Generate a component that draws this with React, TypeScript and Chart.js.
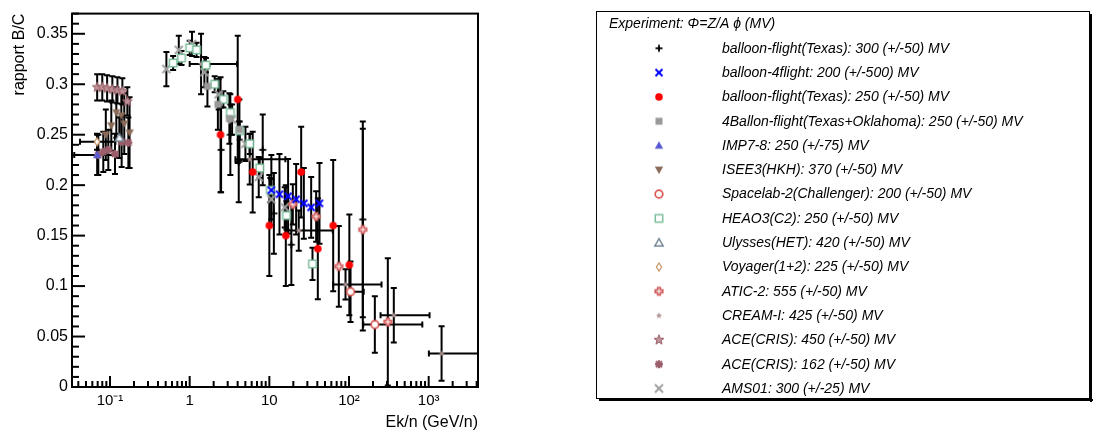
import React, { useEffect, useRef } from 'react';
import { Chart, registerables } from 'chart.js';

Chart.register(...registerables);

// ---------------- data (Ek/n in GeV/n, B/C ratio) ----------------
const texas300E = [2.48, 3.24, 4.13, 8.26, 11.4, 18.9, 149];
const texas300BC = [0.235, 0.25, 0.223, 0.235, 0.172, 0.141, 0.166];
const texas300Err = [0.042, 0.04, 0.04, 0.035, 0.04, 0.04, 0.097];

const flight4E = [10.6, 13.4, 17.2, 21.7, 27.1, 33.5, 42.6];
const flight4BC = [0.195, 0.191, 0.189, 0.186, 0.182, 0.178, 0.182];
const flight4Err = [0.035, 0.04, 0.037, 0.035, 0.035, 0.03, 0.04];

const texas250E = [2.44, 4.01, 6.18, 10.0, 16.1, 25.1, 40.6, 63.3, 101];
const texas250BC = [0.25, 0.285, 0.213, 0.16, 0.15, 0.213, 0.137, 0.16, 0.121];
const texas250Err = [0.057, 0.063, 0.04, 0.05, 0.05, 0.045, 0.05, 0.065, 0.05];

const ballon4E = [1.67, 2.26, 3.15, 4.21];
const ballon4BC = [0.298, 0.28, 0.266, 0.255];
const ballon4Err = [0.02, 0.025, 0.025, 0.03];

const impE = [0.069];
const impBC = [0.23];
const impErr = [0.02];
const impXLo = [0.0356];
const impXHi = [0.12];

const iseeE = [0.0886, 0.1038, 0.12, 0.1387, 0.151, 0.176];
const iseeBC = [0.25, 0.259, 0.272, 0.269, 0.261, 0.252];
const iseeErr = [0.025, 0.025, 0.025, 0.025, 0.03, 0.035];

const spacelabE = [104.5, 211];
const spacelabBC = [0.0944, 0.0619];
const spacelabErr = [0.03, 0.028];
const spacelabXLo = [104.5, 151];
const spacelabXHi = [153, 832];

const heaoE = [0.62, 0.79, 1.0, 1.22, 1.6, 2.06, 2.65, 3.24, 4.25, 5.67, 7.57, 10.3, 16.4, 34.8];
const heaoBC = [0.321, 0.326, 0.336, 0.334, 0.319, 0.3, 0.285, 0.272, 0.254, 0.241, 0.217, 0.195, 0.17, 0.122];
const heaoErr = [0.007, 0.007, 0.007, 0.007, 0.007, 0.008, 0.008, 0.008, 0.009, 0.01, 0.01, 0.012, 0.014, 0.016];

const ulyssesE = [0.131];
const ulyssesBC = [0.247];
const ulyssesErr = [0.02];

const voyagerE = [0.0687];
const voyagerBC = [0.243];
const voyagerErr = [0.008];
const voyagerXLo = [0.042];
const voyagerXHi = [0.117];

const aticE = [19.7, 38.7, 74.5, 149, 307];
const aticBC = [0.181, 0.169, 0.1195, 0.156, 0.0645];
const aticErr = [0.02, 0.025, 0.04, 0.1, 0.063];

const creamE = [1.39, 5.67, 23.4, 90.4, 365, 1452];
const creamBC = [0.32, 0.2256, 0.155, 0.1016, 0.071, 0.0332];
const creamErr = [0.03, 0.025, 0.02, 0.015, 0.027, 0.027];
const creamXLo = [1.0, 3.75, 15.9, 63.3, 249, 1006];
const creamXHi = [3.94, 15.9, 62.6, 256, 1026, 4200];

const ace450E = [0.069, 0.08, 0.092, 0.107, 0.124, 0.143, 0.165];
const ace450BC = [0.297, 0.297, 0.296, 0.295, 0.294, 0.293, 0.283];
const ace450Err = [0.013, 0.013, 0.013, 0.013, 0.013, 0.013, 0.014];

const ace162E = [0.0713, 0.0824, 0.0952, 0.1155, 0.14, 0.17];
const ace162BC = [0.23, 0.233, 0.235, 0.231, 0.243, 0.242];
const ace162Err = [0.02, 0.02, 0.02, 0.02, 0.025, 0.025];

const amsE = [0.51, 0.73, 1.07, 1.53, 2.31, 3.41, 5.01, 7.36, 10.6, 15.6];
const amsBC = [0.315, 0.334, 0.34, 0.312, 0.29, 0.265, 0.241, 0.208, 0.186, 0.178];
const amsErr = [0.017, 0.014, 0.012, 0.015, 0.015, 0.015, 0.017, 0.02, 0.02, 0.02];

const seriesLabels = [
  'balloon-flight(Texas): 300 (+/-50) MV',
  'balloon-4flight: 200 (+/-500) MV',
  'balloon-flight(Texas): 250 (+/-50) MV',
  '4Ballon-flight(Texas+Oklahoma): 250 (+/-50) MV',
  'IMP7-8: 250 (+/-75) MV',
  'ISEE3(HKH): 370 (+/-50) MV',
  'Spacelab-2(Challenger): 200 (+/-50) MV',
  'HEAO3(C2): 250 (+/-50) MV',
  'Ulysses(HET): 420 (+/-50) MV',
  'Voyager(1+2): 225 (+/-50) MV',
  'ATIC-2: 555 (+/-50) MV',
  'CREAM-I: 425 (+/-50) MV',
  'ACE(CRIS): 450 (+/-50) MV',
  'ACE(CRIS): 162 (+/-50) MV',
  'AMS01: 300 (+/-25) MV',
];
const legendTitle = 'Experiment: \u03A6=Z/A \u03D5 (MV)';

const yTickValues = [0, 0.05, 0.1, 0.15, 0.2, 0.25, 0.3, 0.35];
const yTickLabels = ['0', '0.05', '0.1', '0.15', '0.2', '0.25', '0.3', '0.35'];
const xTickValues = [0.1, 1, 10, 100, 1000];
const xTickLabels = ['10\u207B\u00B9', '1', '10', '10\u00B2', '10\u00B3'];
const xMin = 0.03334;
const xMax = 4160;
const yMin = 0;
const yMax = 0.37;

const FONT = "'Liberation Sans', Arial, Helvetica, sans-serif";

function makeMarker(kind: string, color: string): HTMLCanvasElement {
  const S = 16;
  const c = document.createElement('canvas');
  c.width = S;
  c.height = S;
  const g = c.getContext('2d')!;
  g.translate(S / 2, S / 2);
  g.strokeStyle = color;
  g.fillStyle = color;
  g.lineWidth = 2;
  g.lineCap = 'butt';
  const line = (a: number, b: number, cc: number, d: number) => {
    g.beginPath();
    g.moveTo(a, b);
    g.lineTo(cc, d);
    g.stroke();
  };
  const poly = (pts: number[][]) => {
    g.beginPath();
    pts.forEach((p, i) => (i ? g.lineTo(p[0], p[1]) : g.moveTo(p[0], p[1])));
    g.closePath();
  };
  const starPts = (ro: number, ri: number) => {
    const pts: number[][] = [];
    for (let i = 0; i < 10; i++) {
      const r = i % 2 ? ri : ro;
      const a = -Math.PI / 2 + (i * Math.PI) / 5;
      pts.push([r * Math.cos(a), r * Math.sin(a)]);
    }
    return pts;
  };
  switch (kind) {
    case 'plus':
      g.lineWidth = 1.8;
      line(-3.5, 0, 3.5, 0);
      line(0, -3.5, 0, 3.5);
      break;
    case 'x':
      g.lineWidth = 2;
      line(-3.5, -3.5, 3.5, 3.5);
      line(-3.5, 3.5, 3.5, -3.5);
      break;
    case 'bigx':
      g.lineWidth = 2;
      line(-4, -4, 4, 4);
      line(-4, 4, 4, -4);
      break;
    case 'circle':
      g.beginPath();
      g.arc(0, 0, 3.8, 0, Math.PI * 2);
      g.fill();
      break;
    case 'square':
      g.fillRect(-3.5, -3.5, 7, 7);
      break;
    case 'triUp':
      poly([[0, -4.2], [4.2, 3.2], [-4.2, 3.2]]);
      g.fill();
      break;
    case 'triDown':
      poly([[0, 4.2], [4.2, -3.2], [-4.2, -3.2]]);
      g.fill();
      break;
    case 'openCircle':
      g.lineWidth = 1.7;
      g.beginPath();
      g.arc(0, 0, 3.8, 0, Math.PI * 2);
      g.fillStyle = '#fff';
      g.fill();
      g.stroke();
      break;
    case 'openSquare':
      g.lineWidth = 1.5;
      g.fillStyle = '#fff';
      g.fillRect(-3.7, -3.7, 7.4, 7.4);
      g.strokeRect(-3.7, -3.7, 7.4, 7.4);
      break;
    case 'openTri':
      g.lineWidth = 1.4;
      poly([[0, -4.2], [4.2, 3.2], [-4.2, 3.2]]);
      g.fillStyle = '#fff';
      g.fill();
      g.stroke();
      break;
    case 'openDiamond':
      g.lineWidth = 1.3;
      poly([[0, -4], [2.6, 0], [0, 4], [-2.6, 0]]);
      g.fillStyle = '#fff';
      g.fill();
      g.stroke();
      break;
    case 'openCross': {
      const w = 2.2;
      const L = 4.6;
      poly([
        [-w, -L], [w, -L], [w, -w], [L, -w], [L, w], [w, w],
        [w, L], [-w, L], [-w, w], [-L, w], [-L, -w], [-w, -w],
      ]);
      g.fill();
      g.strokeStyle = '#fff';
      g.lineWidth = 1;
      line(-2.6, 0, 2.6, 0);
      line(0, -2.6, 0, 2.6);
      break;
    }
    case 'smallStar':
      poly(starPts(3.3, 1.4));
      g.fill();
      break;
    case 'star':
      poly(starPts(5.2, 2.2));
      g.fill();
      g.lineWidth = 1;
      g.strokeStyle = '#9a6068';
      g.stroke();
      break;
    case 'asterisk':
      g.lineWidth = 2.2;
      line(-4, 0, 4, 0);
      line(0, -4, 0, 4);
      line(-3, -3, 3, 3);
      line(-3, 3, 3, -3);
      break;
  }
  return c;
}

const seriesDefs = [
  { x: texas300E, y: texas300BC, ey: texas300Err, marker: 'plus', color: '#000000' },
  { x: flight4E, y: flight4BC, ey: flight4Err, marker: 'x', color: '#0000ff' },
  { x: texas250E, y: texas250BC, ey: texas250Err, marker: 'circle', color: '#ff0000' },
  { x: ballon4E, y: ballon4BC, ey: ballon4Err, marker: 'square', color: '#9a9a9a' },
  { x: impE, y: impBC, ey: impErr, xlo: impXLo, xhi: impXHi, marker: 'triUp', color: '#5a5ad2' },
  { x: iseeE, y: iseeBC, ey: iseeErr, marker: 'triDown', color: '#8a6a58' },
  { x: spacelabE, y: spacelabBC, ey: spacelabErr, xlo: spacelabXLo, xhi: spacelabXHi, marker: 'openCircle', color: '#d9534f' },
  { x: heaoE, y: heaoBC, ey: heaoErr, marker: 'openSquare', color: '#7dbf9c' },
  { x: ulyssesE, y: ulyssesBC, ey: ulyssesErr, marker: 'openTri', color: '#6e8494' },
  { x: voyagerE, y: voyagerBC, ey: voyagerErr, xlo: voyagerXLo, xhi: voyagerXHi, marker: 'openDiamond', color: '#c89a6a' },
  { x: aticE, y: aticBC, ey: aticErr, marker: 'openCross', color: '#d46464' },
  { x: creamE, y: creamBC, ey: creamErr, xlo: creamXLo, xhi: creamXHi, marker: 'smallStar', color: '#b09494' },
  { x: ace450E, y: ace450BC, ey: ace450Err, marker: 'star', color: '#c0939a' },
  { x: ace162E, y: ace162BC, ey: ace162Err, marker: 'asterisk', color: '#9c5f6c' },
  { x: amsE, y: amsBC, ey: amsErr, marker: 'bigx', color: '#a0a0a0' },
];

const errorBarPlugin = {
  id: 'errorBars',
  beforeDatasetsDraw(chart: any) {
    const { ctx, chartArea } = chart;
    const xs = chart.scales.x;
    const ys = chart.scales.y;
    ctx.save();
    ctx.beginPath();
    ctx.rect(chartArea.left, chartArea.top, chartArea.right - chartArea.left, chartArea.bottom - chartArea.top);
    ctx.clip();
    ctx.strokeStyle = '#000';
    ctx.lineWidth = 2;
    const seg = (a: number, b: number, c: number, d: number) => {
      ctx.beginPath();
      ctx.moveTo(a, b);
      ctx.lineTo(c, d);
      ctx.stroke();
    };
    chart.data.datasets.forEach((ds: any) => {
      ds.data.forEach((p: any, i: number) => {
        const px = xs.getPixelForValue(p.x);
        const py = ys.getPixelForValue(p.y);
        const e = ds.errY ? ds.errY[i] : 0;
        if (e > 0) {
          const y1 = ys.getPixelForValue(p.y + e);
          const y2 = ys.getPixelForValue(Math.max(0, p.y - e));
          seg(px, y1, px, y2);
          seg(px - 3, y1, px + 3, y1);
          seg(px - 3, y2, px + 3, y2);
        }
        if (ds.xLo && ds.xHi) {
          const x1 = xs.getPixelForValue(ds.xLo[i]);
          const x2 = xs.getPixelForValue(ds.xHi[i]);
          seg(x1, py, x2, py);
          if (Math.abs(x1 - px) > 1) seg(x1, py - 3, x1, py + 3);
          if (Math.abs(x2 - px) > 1) seg(x2, py - 3, x2, py + 3);
        }
      });
    });
    ctx.restore();
  },
};

const framePlugin = {
  id: 'rootFrame',
  afterDatasetsDraw(chart: any) {
    const { ctx, chartArea } = chart;
    const xs = chart.scales.x;
    const ys = chart.scales.y;
    const { left, right, top, bottom } = chartArea;
    ctx.save();
    ctx.strokeStyle = '#000';
    ctx.lineWidth = 2;
    ctx.strokeRect(left, top, right - left, bottom - top);
    const seg = (a: number, b: number, c: number, d: number) => {
      ctx.beginPath();
      ctx.moveTo(a, b);
      ctx.lineTo(c, d);
      ctx.stroke();
    };
    // y ticks (inside)
    for (let k = 0; k <= 37; k++) {
      const v = k * 0.01;
      if (v > yMax + 1e-9) break;
      const py = ys.getPixelForValue(v);
      const major = k % 5 === 0;
      seg(left, py, left + (major ? 13 : 7), py);
    }
    // x ticks (inside)
    for (let d = -2; d <= 3; d++) {
      for (let m = 1; m <= 9; m++) {
        const v = m * Math.pow(10, d);
        if (v < xMin || v > xMax) continue;
        const px = xs.getPixelForValue(v);
        seg(px, bottom, px, bottom - (m === 1 ? 11 : 6));
      }
    }
    ctx.restore();
  },
};

const legendPlugin = {
  id: 'rootLegend',
  afterDraw(chart: any) {
    const { ctx } = chart;
    const L = 596;
    const T = 11;
    const R = 1090;
    const B = 399;
    ctx.save();
    ctx.fillStyle = '#fff';
    ctx.fillRect(L, T, R - L, B - T);
    ctx.fillStyle = '#000';
    ctx.fillRect(L + 3, B, R - L, 2);
    ctx.fillRect(R, T + 3, 2, B - T);
    ctx.strokeStyle = '#000';
    ctx.lineWidth = 1;
    ctx.strokeRect(L + 0.5, T + 0.5, R - L - 1, B - T - 1);
    ctx.fillStyle = '#000';
    ctx.textBaseline = 'middle';
    ctx.textAlign = 'left';
    ctx.font = `italic 14px ${FONT}`;
    ctx.fillText(legendTitle, 609, 24);
    chart.data.datasets.forEach((ds: any, i: number) => {
      const cy = 48.3 + i * 24.3;
      const img = ds.pointStyle as HTMLCanvasElement;
      ctx.drawImage(img, 659 - img.width / 2, cy - img.height / 2);
      ctx.fillStyle = '#000';
      ctx.fillText(ds.label, 722, cy + 0.5);
    });
    ctx.restore();
  },
};

export default function App() {
  const ref = useRef<HTMLCanvasElement>(null);
  useEffect(() => {
    const canvas = ref.current;
    if (!canvas) return;
    const datasets = seriesDefs.map((s: any, i: number) => ({
      label: seriesLabels[i],
      data: s.x.map((xv: number, j: number) => ({ x: xv, y: s.y[j] })),
      errY: s.ey,
      xLo: s.xlo,
      xHi: s.xhi,
      pointStyle: makeMarker(s.marker, s.color),
      pointRadius: 5,
      backgroundColor: s.color,
      borderColor: s.color,
      showLine: false,
    }));
    const chart = new Chart(canvas, {
      type: 'scatter',
      data: { datasets },
      options: {
        animation: false,
        responsive: false,
        devicePixelRatio: 1,
        layout: { padding: { left: 0, top: 8, right: 618, bottom: 0 } },
        plugins: {
          legend: { display: false },
          tooltip: { enabled: false },
        },
        scales: {
          x: {
            type: 'logarithmic',
            min: xMin,
            max: xMax,
            grid: { display: false, drawTicks: false },
            border: { display: false },
            afterBuildTicks: (scale: any) => {
              scale.ticks = xTickValues.map((v) => ({ value: v }));
            },
            afterFit: (scale: any) => {
              scale.height = 45;
            },
            ticks: {
              autoSkip: false,
              maxRotation: 0,
              padding: 5,
              color: '#000',
              font: { family: FONT, size: 15 },
              callback: (_v: any, idx: number) => xTickLabels[idx],
            },
            title: {
              display: true,
              text: 'Ek/n (GeV/n)',
              align: 'end',
              color: '#000',
              font: { family: FONT, size: 16 },
              padding: { top: 0, bottom: 0 },
            },
          },
          y: {
            type: 'linear',
            min: yMin,
            max: yMax,
            grid: { display: false, drawTicks: false },
            border: { display: false },
            afterBuildTicks: (scale: any) => {
              scale.ticks = yTickValues.map((v) => ({ value: v }));
            },
            afterFit: (scale: any) => {
              scale.width = 72;
            },
            ticks: {
              autoSkip: false,
              padding: 4,
              color: '#000',
              font: { family: FONT, size: 16 },
              callback: (_v: any, idx: number) => yTickLabels[idx],
            },
            title: {
              display: true,
              text: 'rapport B/C',
              align: 'end',
              color: '#000',
              font: { family: FONT, size: 16 },
              padding: { top: 10, bottom: 0 },
            },
          },
        },
      },
      plugins: [errorBarPlugin, framePlugin, legendPlugin],
    } as any);
    return () => chart.destroy();
  }, []);
  return (
    <div style={{ position: 'absolute', left: 0, top: 0, width: 1096, height: 432, background: '#fff' }}>
      <canvas ref={ref} width={1096} height={432} style={{ display: 'block', width: 1096, height: 432 }} />
    </div>
  );
}
